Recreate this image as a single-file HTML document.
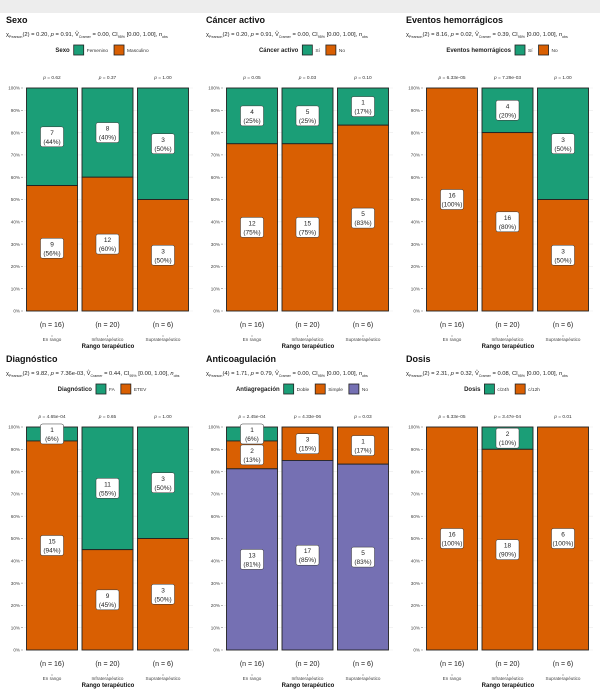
<!DOCTYPE html>
<html><head><meta charset="utf-8"><style>
html,body{margin:0;padding:0;background:#fff;}
svg{display:block;font-family:"Liberation Sans",sans-serif;}
</style></head><body>
<svg id="chart" width="600" height="692" viewBox="0 0 600 692" xmlns="http://www.w3.org/2000/svg">
<rect x="0" y="0" width="600" height="13" fill="#ededed"/>
</svg>
<script>
const categories = ["En rango","Infraterapéutico","Supraterapéutico"];
const nTotals = [16,20,6];
const colors = {g:"#1b9e77", o:"#d95f02", p:"#7570b3"};

const titles = ["Sexo","Cáncer activo","Eventos hemorrágicos","Diagnóstico","Anticoagulación","Dosis"];
const legendTitles = ["Sexo","Cáncer activo","Eventos hemorrágicos","Diagnóstico","Antiagregación","Dosis"];
const chiDf = ["2","2","2","2","4","2"];
const chiVals = ["0.20","0.20","8.16","9.82","1.71","2.31"];
const pVals = ["0.91","0.91","0.02","7.36e-03","0.79","0.32"];
const vVals = ["0.00","0.00","0.39","0.44","0.00","0.08"];
const levelNames = [["Femenino","Masculino"],["Sí","No"],["Sí","No"],["FA","ETEV"],["Doble","Simple","No"],["c/24h","c/12h"]];
const levelColors = [["g","o"],["g","o"],["g","o"],["g","o"],["g","o","p"],["g","o"]];
const sexoCounts = [[7,8,3],[9,12,3]];
const cancerCounts = [[4,5,1],[12,15,5]];
const eventosCounts = [[0,4,3],[16,16,3]];
const diagCounts = [[1,11,3],[15,9,3]];
const antiCounts = [[1,0,0],[2,3,1],[13,17,5]];
const dosisCounts = [[0,2,0],[16,18,6]];
const allCounts = [sexoCounts,cancerCounts,eventosCounts,diagCounts,antiCounts,dosisCounts];
const pLabels = [["0.62","0.37","1.00"],["0.05","0.03","0.10"],["6.33e-05","7.29e-03","1.00"],["4.65e-04","0.65","1.00"],["2.45e-04","4.33e-06","0.03"],["6.33e-05","3.47e-04","0.01"]];
const yTicks = [0,10,20,30,40,50,60,70,80,90,100];

const svg = document.getElementById('chart');
const NS = "http://www.w3.org/2000/svg";
function mk(tag, attrs, parent){const e=document.createElementNS(NS,tag);for(const k in attrs)e.setAttribute(k,attrs[k]);(parent||svg).appendChild(e);return e;}
function txt(x,y,s,size,opts,parent){const t=mk('text',Object.assign({x:x,y:y,'font-size':size,fill:'#222'},opts||{}),parent);t.textContent=s;return t;}

const defs = mk('defs',{});
for(let i=0;i<6;i++){
  const col=i%3,row=Math.floor(i/3);
  const ox=col*200, oy=row*339;
  const cp=mk('clipPath',{id:'clip'+i},defs);
  mk('rect',{x:ox,y:oy,width:199,height:353},cp);
  const g=mk('g',{'clip-path':'url(#clip'+i+')'});
  
  
  const yTop=88+oy, yBot=311+oy, H=yBot-yTop;
  const yScale=v=>yBot-v/100*H;
  const xCenter=j=>ox+52+j*55.5;
  const bw=51;
  const tt=txt(ox+6,oy+23,titles[i],9,{'font-weight':'bold',fill:'#111'},g);
  
  
  const st=mk('text',{x:ox+6,y:oy+36,'font-size':5.8,fill:'#222'},g);
  
  
  st.innerHTML='χ<tspan dy="2" font-size="3.6">Pearson</tspan><tspan dy="-2">('+chiDf[i]+') = '+chiVals[i]+', </tspan><tspan font-style="italic">p</tspan> = '+pVals[i]+', V̂<tspan dy="2" font-size="3.6">Cramer</tspan><tspan dy="-2"> = '+vVals[i]+', CI</tspan><tspan dy="2" font-size="3.6">95%</tspan><tspan dy="-2"> [0.00, 1.00], </tspan><tspan font-style="italic">n</tspan><tspan dy="2" font-size="3.6">obs</tspan>';
  const lg=mk('g',{},g);
  
  
  const lt=txt(0,oy+52,legendTitles[i],6,{'font-weight':'bold'},lg);
  let x=lt.getComputedTextLength()+4;
  levelNames[i].forEach((nm,k)=>{
    const r=mk('rect',{x:x,y:oy+45,width:10,height:10,fill:colors[levelColors[i][k]],stroke:'#222','stroke-width':0.8},lg);
    
    
    const t=txt(x+13,oy+52,nm,4.8,{fill:'#333'},lg);
    
    
    x+=13+t.getComputedTextLength()+6;
  });
  lg.setAttribute('transform','translate('+(ox+105-x/2)+',0)');
  yTicks.forEach(v=>{
    const y=yScale(v);
    mk('line',{x1:ox+24,x2:ox+193,y1:y,y2:y,stroke:'#ebebeb','stroke-width':0.6},g);
    const t=txt(ox+20,y+1.7,v+'%',4.6,{'text-anchor':'end',fill:'#444'},g);
    
    
    mk('line',{x1:ox+21,x2:ox+23,y1:y,y2:y,stroke:'#444','stroke-width':0.4},g);
  });
  const counts=allCounts[i];
  categories.forEach((c,j)=>{
    const n=nTotals[j];
    let cum=0;
    const segs=[];
    counts.forEach((arr,k)=>{
      const v=arr[j];
      const pct=v/n*100;
      const top=cum, bot=cum+pct;
      cum=bot;
      if(v===0) return;
      const y1=yBot-(100-top)/100*H, y2=yBot-(100-bot)/100*H;
      const r=mk('rect',{x:xCenter(j)-bw/2,y:y1,width:bw,height:y2-y1,fill:colors[levelColors[i][k]],stroke:'#222','stroke-width':0.9},g);
      
      
      segs.push({v:v,pct:pct,ym:(y1+y2)/2});
    });
    segs.forEach(s=>{
      const bx=xCenter(j)-11.5, by=s.ym-10;
      const b=mk('rect',{x:bx,y:by,width:23,height:20,rx:2,fill:'#fff',stroke:'#333','stroke-width':0.5},g);
      
      
      txt(xCenter(j),s.ym-2,String(s.v),6.5,{'text-anchor':'middle'},g);
      txt(xCenter(j),s.ym+7,'('+Math.round(s.pct)+'%)',6.5,{'text-anchor':'middle'},g);
    });
    const pl=mk('text',{x:xCenter(j),y:oy+79,'font-size':4.8,'text-anchor':'middle',fill:'#333'},g);
    pl.innerHTML='<tspan font-style="italic">p</tspan> = '+pLabels[i][j];
    
    
    const nl=txt(xCenter(j),yBot+16,'(n = '+n+')',7,{'text-anchor':'middle',fill:'#222'},g);
    
    
    mk('line',{x1:xCenter(j),x2:xCenter(j),y1:yBot+24,y2:yBot+26,stroke:'#444','stroke-width':0.4},g);
    const xl=txt(xCenter(j),yBot+30,c,4.6,{'text-anchor':'middle',fill:'#444'},g);
    
    
  });
  const at=txt(ox+108,yBot+37,'Rango terapéutico',6,{'text-anchor':'middle','font-weight':'bold',fill:'#111'},g);
  
  
}
</script>
</body></html>
